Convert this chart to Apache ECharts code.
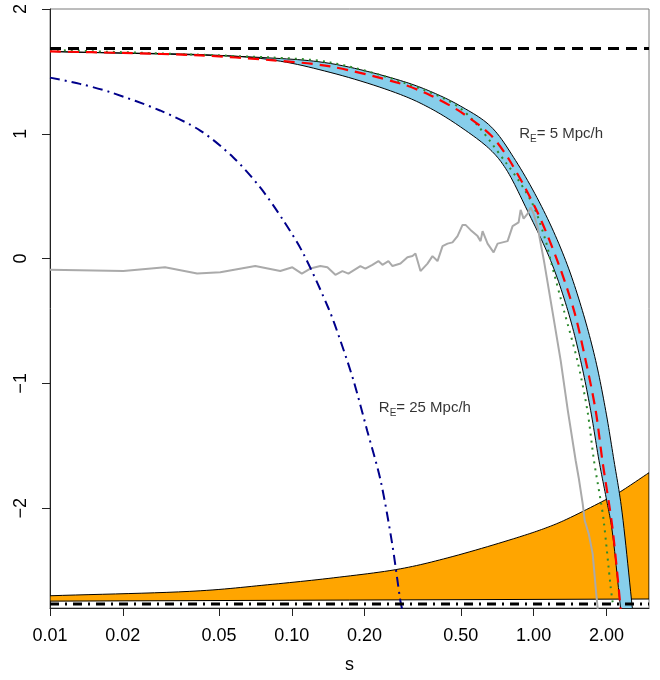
<!DOCTYPE html>
<html>
<head>
<meta charset="utf-8">
<script src="https://cdn.jsdelivr.net/npm/echarts@6/dist/echarts.min.js"></script>
<style>
  html, body { margin: 0; padding: 0; background: #ffffff; }
  #chart { width: 660px; height: 680px; }
</style>
</head>
<body>
<div id="chart"></div>
<script>
const FONT = '"Liberation Sans", Arial, Helvetica, sans-serif';

// Axis ranges and tick positions
const sRange = [0.01, 3];
const yRange = [-2.8, 2];
const sTicks = [0.01, 0.02, 0.05, 0.1, 0.2, 0.5, 1, 2];
const yTicks = [-2, -1, 0, 1, 2];

// Horizontal reference levels
const levelS = [0.01, 3];
const levelTop = 1.684;
const levelBottom = -2.767;

// R_E = 5 Mpc/h band: upper and lower edges
const sBandHi = [0.01, 0.074, 0.144, 0.281, 0.375, 0.4985, 0.664, 0.842, 1.100, 1.357, 1.591, 1.806, 1.987, 2.150, 2.303, 2.563];
const yBandHi = [1.66, 1.612, 1.564, 1.427, 1.339, 1.222, 1.06, 0.786, 0.385, -0.016, -0.417, -0.818, -1.219, -1.620, -1.981, -2.807];
const sBandLo = [0.01, 0.074, 0.144, 0.281, 0.375, 0.4985, 0.664, 0.766, 0.942, 1.176, 1.385, 1.565, 1.722, 1.864, 2.006, 2.104, 2.29];
const yBandLo = [1.66, 1.604, 1.492, 1.315, 1.203, 1.055, 0.87, 0.722, 0.385, -0.016, -0.417, -0.818, -1.219, -1.620, -1.941, -2.157, -2.807];

// Red dashed curve
const sRed = [0.01, 0.02, 0.042, 0.082, 0.144, 0.281, 0.375, 0.499, 0.664, 0.796, 1.029, 1.253, 1.469, 1.642, 1.806, 1.925, 2.118, 2.29];
const yRed = [1.66, 1.648, 1.628, 1.59, 1.54, 1.403, 1.307, 1.175, 0.99, 0.786, 0.385, -0.016, -0.417, -0.818, -1.219, -1.62, -2.157, -2.807];

// Green dotted curve
const sGreen = [0.01, 0.0815, 0.144, 0.281, 0.4985, 0.778, 0.988, 1.121, 1.176, 1.335, 1.517, 1.669, 1.777, 1.894, 1.949, 2.084, 2.124];
const yGreen = [1.672, 1.612, 1.572, 1.419, 1.203, 0.754, 0.441, 0.144, -0.016, -0.417, -0.818, -1.219, -1.620, -1.941, -2.101, -2.638, -2.759];

// Gray measured curve
const sGray = [0.01, 0.0201, 0.0299, 0.0406, 0.0506, 0.0706, 0.0896, 0.1005, 0.110, 0.1193, 0.1312, 0.1403, 0.1514, 0.1619, 0.1714, 0.1921, 0.2015, 0.2154, 0.2281, 0.2370, 0.2509, 0.2608, 0.2814, 0.3008, 0.3155, 0.3246, 0.3405, 0.3640, 0.3817, 0.4004, 0.4201, 0.4405, 0.4619, 0.4845, 0.5082, 0.5229, 0.5484, 0.5863, 0.6033, 0.6150, 0.6450, 0.6831, 0.7095, 0.7441, 0.7804, 0.8185, 0.8668, 0.8836, 0.9091, 0.9445, 0.9719, 1.000, 1.039, 1.103, 1.195, 1.294, 1.385, 1.493, 1.536, 1.596, 1.627, 1.690, 1.755, 1.806, 1.841];
const yGray = [-0.09, -0.10, -0.07, -0.12, -0.11, -0.06, -0.10, -0.07, -0.12, -0.08, -0.06, -0.07, -0.13, -0.10, -0.12, -0.06, -0.08, -0.05, -0.02, -0.05, -0.02, -0.06, -0.04, 0.01, 0.02, 0.04, -0.10, -0.04, 0.02, -0.02, 0.10, 0.12, 0.13, 0.18, 0.27, 0.27, 0.23, 0.18, 0.14, 0.22, 0.12, 0.05, 0.12, 0.13, 0.14, 0.26, 0.29, 0.39, 0.32, 0.36, 0.41, 0.36, 0.25, -0.016, -0.417, -0.818, -1.219, -1.62, -1.756, -1.965, -2.101, -2.205, -2.366, -2.638, -2.807];

// R_E = 25 Mpc/h curve (dash-dot)
const sBlue = [0.01, 0.0133, 0.0177, 0.0285, 0.0418, 0.0573, 0.0740, 0.0923, 0.1116, 0.1419, 0.159, 0.180, 0.205, 0.233, 0.260, 0.281, 0.286];
const yBlue = [1.45, 1.40, 1.334, 1.187, 1.026, 0.81, 0.57, 0.305, 0.04, -0.40, -0.66, -0.978, -1.379, -1.78, -2.285, -2.74, -2.81];

// Orange region: upper boundary and base
const sOrange = [0.01, 0.0418, 0.0792, 0.1489, 0.281, 0.4412, 0.826, 1.10, 1.331, 2.02, 2.249, 3.0];
const yOrange = [-2.702, -2.662, -2.614, -2.558, -2.486, -2.398, -2.245, -2.165, -2.10, -1.925, -1.876, -1.716];
const sOrangeBase = [0.01, 3.0];
const yOrangeBase = [-2.745, -2.728];

// Annotations
const noteS = [1.3, 0.355];
const noteY = [1.0, -1.2];
const noteRadius = ['5', '25'];

const pairs = (xs, ys) => xs.map((x, i) => [x, ys[i]]);

// Centripetal Catmull-Rom through pixel points, for smooth region outlines
function catmullRom(pts, steps) {
  if (pts.length < 3) return pts.slice();
  const n = pts.length;
  const get = i => {
    if (i < 0) return [2 * pts[0][0] - pts[1][0], 2 * pts[0][1] - pts[1][1]];
    if (i >= n) return [2 * pts[n - 1][0] - pts[n - 2][0], 2 * pts[n - 1][1] - pts[n - 2][1]];
    return pts[i];
  };
  const knot = (a, b) => Math.max(Math.pow(Math.hypot(b[0] - a[0], b[1] - a[1]), 0.5), 1e-4);
  const lerp = (a, b, ta, tb, t) => {
    const w = (t - ta) / (tb - ta);
    return [a[0] + (b[0] - a[0]) * w, a[1] + (b[1] - a[1]) * w];
  };
  const out = [pts[0]];
  for (let i = 0; i < n - 1; i++) {
    const p0 = get(i - 1), p1 = get(i), p2 = get(i + 1), p3 = get(i + 2);
    const t0 = 0, t1 = t0 + knot(p0, p1), t2 = t1 + knot(p1, p2), t3 = t2 + knot(p2, p3);
    for (let k = 1; k <= steps; k++) {
      const t = t1 + (t2 - t1) * k / steps;
      const a1 = lerp(p0, p1, t0, t1, t), a2 = lerp(p1, p2, t1, t2, t), a3 = lerp(p2, p3, t2, t3, t);
      const b1 = lerp(a1, a2, t0, t2, t), b2 = lerp(a2, a3, t1, t3, t);
      out.push(lerp(b1, b2, t1, t2, t));
    }
  }
  return out;
}

function region(topS, topY, botS, botY, fill) {
  return {
    type: 'custom',
    coordinateSystem: 'cartesian2d',
    clip: true,
    silent: true,
    data: [[1, 0]],
    renderItem: function (params, api) {
      const top = topS.map((s, i) => api.coord([s, topY[i]]));
      const bot = botS.map((s, i) => api.coord([s, botY[i]]));
      const pts = catmullRom(top, 12).concat(catmullRom(bot, 12).reverse());
      return {
        type: 'polygon',
        shape: { points: pts },
        style: { fill: fill, stroke: '#000000', lineWidth: 1 }
      };
    }
  };
}

function curve(xs, ys, color, width, dash, smooth) {
  return {
    type: 'line',
    data: pairs(xs, ys),
    symbol: 'none',
    silent: true,
    smooth: smooth || false,
    lineStyle: { color: color, width: width, type: dash, cap: 'butt' }
  };
}

const chart = echarts.init(document.getElementById('chart'), null, { renderer: 'canvas' });

chart.setOption({
  animation: false,
  backgroundColor: '#ffffff',
  grid: { left: 50, right: 11, top: 9, bottom: 72, show: true, borderColor: '#7a7a7a', borderWidth: 1 },
  xAxis: {
    type: 'log',
    logBase: 10,
    min: sRange[0],
    max: sRange[1],
    name: 's',
    nameLocation: 'middle',
    nameGap: 48,
    nameTextStyle: { fontSize: 18, fontFamily: FONT, color: '#000' },
    axisLine: { show: true, onZero: false, lineStyle: { color: '#222', width: 1 } },
    axisTick: { show: true, customValues: sTicks, length: 8, lineStyle: { color: '#222' } },
    axisLabel: {
      customValues: sTicks,
      margin: 19,
      fontSize: 18,
      fontFamily: FONT,
      color: '#000',
      formatter: v => Number(v).toFixed(2)
    },
    splitLine: { show: false },
    minorTick: { show: false }
  },
  yAxis: {
    type: 'value',
    min: yRange[0],
    max: yRange[1],
    axisLine: { show: true, onZero: false, lineStyle: { color: '#222', width: 1 } },
    axisTick: { show: true, customValues: yTicks, length: 8, lineStyle: { color: '#222' } },
    axisLabel: {
      customValues: yTicks,
      rotate: 90,
      margin: 20,
      fontSize: 18,
      fontFamily: FONT,
      color: '#000',
      formatter: v => (v < 0 ? '\u2212' + Math.abs(v) : String(v))
    },
    splitLine: { show: false }
  },
  series: [
    region(sOrange, yOrange, sOrangeBase, yOrangeBase, '#FFA500'),
    region(sBandHi, yBandHi, sBandLo, yBandLo, '#87CEEB'),
    curve(sGray, yGray, '#AAAAAA', 2, 'solid'),
    curve(sBlue, yBlue, '#00008B', 2, [10, 5, 2, 5], 0.3),
    curve(sGreen, yGreen, '#2E8B2E', 2, [2, 5], 0.3),
    curve(sRed, yRed, '#FF0000', 2.2, [11, 7], 0.3),
    curve(levelS, [levelTop, levelTop], '#000000', 3, [11, 7]),
    curve(levelS, [levelBottom, levelBottom], '#000000', 3, [9, 6, 2, 6]),
    {
      type: 'scatter',
      silent: true,
      symbolSize: 1,
      itemStyle: { color: 'rgba(0,0,0,0)' },
      data: pairs(noteS, noteY),
      label: {
        show: true,
        position: 'inside',
        formatter: p => '{t|R}{sub|E}{t|= ' + noteRadius[p.dataIndex] + ' Mpc/h}',
        rich: {
          t: { fontSize: 15, fontFamily: FONT, color: '#000', lineHeight: 20 },
          sub: { fontSize: 10, fontFamily: FONT, color: '#000', verticalAlign: 'bottom', lineHeight: 20 }
        }
      }
    }
  ]
});
</script>
</body>
</html>
